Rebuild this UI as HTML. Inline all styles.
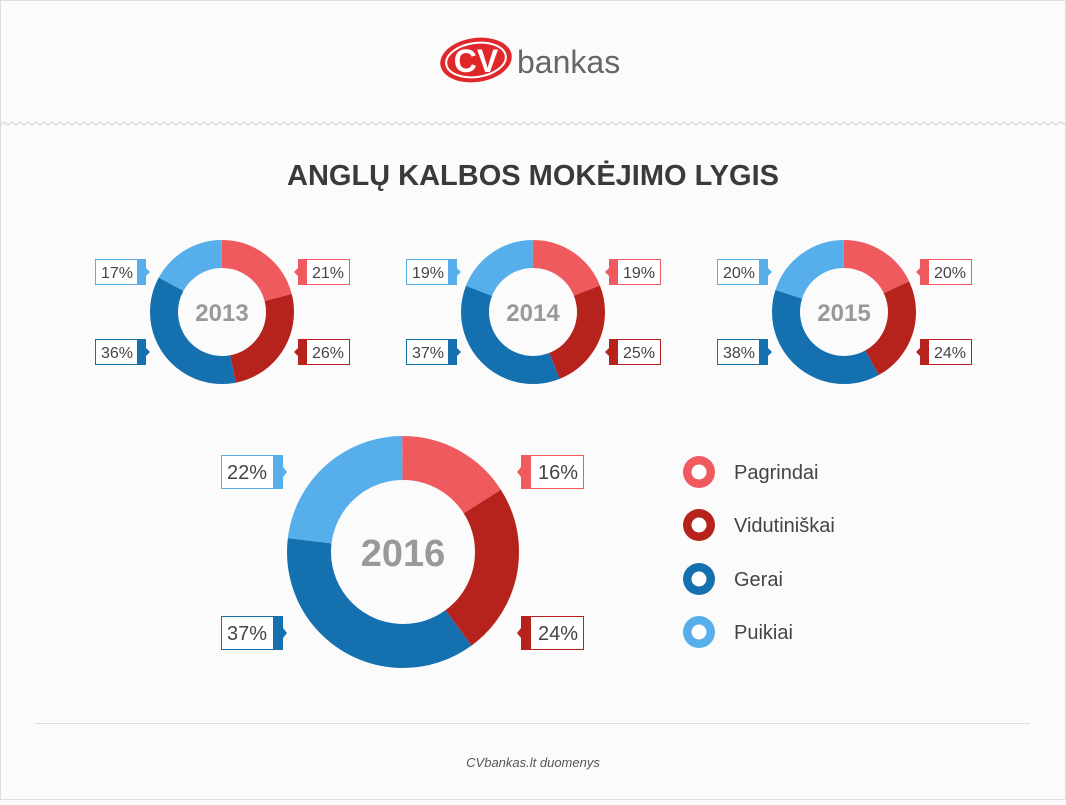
<!DOCTYPE html>
<html><head><meta charset="utf-8"><style>
body{margin:0;width:1066px;height:800px;background:#fbfbfb;font-family:"Liberation Sans",sans-serif;overflow:hidden}
</style></head><body>
<svg width="1066" height="800" xmlns="http://www.w3.org/2000/svg" font-family="Liberation Sans, sans-serif">
<rect x="0.5" y="0.5" width="1065" height="799" fill="#fbfbfb" stroke="#ddd"/>
<!-- logo -->
<ellipse cx="476" cy="60" rx="36" ry="22" fill="#e0282b" transform="rotate(-8 476 60)"/>
<ellipse cx="476" cy="60" rx="30" ry="17" fill="none" stroke="#fff" stroke-width="2" transform="rotate(-8 476 60)"/>
<text x="476" y="72" font-size="32" font-weight="bold" fill="#fff" text-anchor="middle">CV</text>
<text x="517" y="73" font-size="32" fill="#666">bankas</text>
<polyline points="0,125 4,122 8,125 12,122 16,125 20,122 24,125 28,122 32,125 36,122 40,125 44,122 48,125 52,122 56,125 60,122 64,125 68,122 72,125 76,122 80,125 84,122 88,125 92,122 96,125 100,122 104,125 108,122 112,125 116,122 120,125 124,122 128,125 132,122 136,125 140,122 144,125 148,122 152,125 156,122 160,125 164,122 168,125 172,122 176,125 180,122 184,125 188,122 192,125 196,122 200,125 204,122 208,125 212,122 216,125 220,122 224,125 228,122 232,125 236,122 240,125 244,122 248,125 252,122 256,125 260,122 264,125 268,122 272,125 276,122 280,125 284,122 288,125 292,122 296,125 300,122 304,125 308,122 312,125 316,122 320,125 324,122 328,125 332,122 336,125 340,122 344,125 348,122 352,125 356,122 360,125 364,122 368,125 372,122 376,125 380,122 384,125 388,122 392,125 396,122 400,125 404,122 408,125 412,122 416,125 420,122 424,125 428,122 432,125 436,122 440,125 444,122 448,125 452,122 456,125 460,122 464,125 468,122 472,125 476,122 480,125 484,122 488,125 492,122 496,125 500,122 504,125 508,122 512,125 516,122 520,125 524,122 528,125 532,122 536,125 540,122 544,125 548,122 552,125 556,122 560,125 564,122 568,125 572,122 576,125 580,122 584,125 588,122 592,125 596,122 600,125 604,122 608,125 612,122 616,125 620,122 624,125 628,122 632,125 636,122 640,125 644,122 648,125 652,122 656,125 660,122 664,125 668,122 672,125 676,122 680,125 684,122 688,125 692,122 696,125 700,122 704,125 708,122 712,125 716,122 720,125 724,122 728,125 732,122 736,125 740,122 744,125 748,122 752,125 756,122 760,125 764,122 768,125 772,122 776,125 780,122 784,125 788,122 792,125 796,122 800,125 804,122 808,125 812,122 816,125 820,122 824,125 828,122 832,125 836,122 840,125 844,122 848,125 852,122 856,125 860,122 864,125 868,122 872,125 876,122 880,125 884,122 888,125 892,122 896,125 900,122 904,125 908,122 912,125 916,122 920,125 924,122 928,125 932,122 936,125 940,122 944,125 948,122 952,125 956,122 960,125 964,122 968,125 972,122 976,125 980,122 984,125 988,122 992,125 996,122 1000,125 1004,122 1008,125 1012,122 1016,125 1020,122 1024,125 1028,122 1032,125 1036,122 1040,125 1044,122 1048,125 1052,122 1056,125 1060,122 1066,125" fill="none" stroke="#ddd" stroke-width="1.5"/>
<text x="533" y="185" font-size="29" font-weight="bold" fill="#3a3a3a" text-anchor="middle">ANGLŲ KALBOS MOKĖJIMO LYGIS</text>

<!-- donut generator via groups -->
<g id="d2013" transform="translate(222 312) rotate(-90)" fill="none" stroke-width="28">
<circle r="58" pathLength="100" stroke="#EF5A5F" stroke-dasharray="21 79" stroke-dashoffset="0"/>
<circle r="58" pathLength="100" stroke="#B5231C" stroke-dasharray="26 74" stroke-dashoffset="-21"/>
<circle r="58" pathLength="100" stroke="#1570B0" stroke-dasharray="36 64" stroke-dashoffset="-47"/>
<circle r="58" pathLength="100" stroke="#56AEEA" stroke-dasharray="17 83" stroke-dashoffset="-83"/>
</g>
<g transform="translate(533 312) rotate(-90)" fill="none" stroke-width="28">
<circle r="58" pathLength="100" stroke="#EF5A5F" stroke-dasharray="19 81" stroke-dashoffset="0"/>
<circle r="58" pathLength="100" stroke="#B5231C" stroke-dasharray="25 75" stroke-dashoffset="-19"/>
<circle r="58" pathLength="100" stroke="#1570B0" stroke-dasharray="37 63" stroke-dashoffset="-44"/>
<circle r="58" pathLength="100" stroke="#56AEEA" stroke-dasharray="19 81" stroke-dashoffset="-81"/>
</g>
<g transform="translate(844 312) rotate(-90)" fill="none" stroke-width="28">
<circle r="58" pathLength="100" stroke="#EF5A5F" stroke-dasharray="18 82" stroke-dashoffset="0"/>
<circle r="58" pathLength="100" stroke="#B5231C" stroke-dasharray="24 76" stroke-dashoffset="-18"/>
<circle r="58" pathLength="100" stroke="#1570B0" stroke-dasharray="38 62" stroke-dashoffset="-42"/>
<circle r="58" pathLength="100" stroke="#56AEEA" stroke-dasharray="20 80" stroke-dashoffset="-80"/>
</g>
<g transform="translate(403 552) rotate(-90)" fill="none" stroke-width="44">
<circle r="94" pathLength="100" stroke="#EF5A5F" stroke-dasharray="16 84" stroke-dashoffset="0"/>
<circle r="94" pathLength="100" stroke="#B5231C" stroke-dasharray="24 76" stroke-dashoffset="-16"/>
<circle r="94" pathLength="100" stroke="#1570B0" stroke-dasharray="37 63" stroke-dashoffset="-40"/>
<circle r="94" pathLength="100" stroke="#56AEEA" stroke-dasharray="23 77" stroke-dashoffset="-77"/>
</g>
<g font-weight="bold" fill="#999" text-anchor="middle">
<text x="222" y="321" font-size="24">2013</text>
<text x="533" y="321" font-size="24">2014</text>
<text x="844" y="321" font-size="24">2015</text>
<text x="403" y="566" font-size="38">2016</text>
</g>

<!-- small labels: left type -->
<g font-size="16" fill="#444">
<!-- 2013 -->
<rect x="95.5" y="259.5" width="44" height="25" fill="#fff" stroke="#56AEEA"/><rect x="137" y="259" width="9" height="26" fill="#56AEEA"/><path d="M146 268 L150 272 L146 276Z" fill="#56AEEA"/><text x="117" y="278" text-anchor="middle">17%</text>
<rect x="95.5" y="339.5" width="44" height="25" fill="#fff" stroke="#1570B0"/><rect x="137" y="339" width="9" height="26" fill="#1570B0"/><path d="M146 348 L150 352 L146 356Z" fill="#1570B0"/><text x="117" y="358" text-anchor="middle">36%</text>
<rect x="304.5" y="259.5" width="45" height="25" fill="#fff" stroke="#EF5A5F"/><rect x="298" y="259" width="9" height="26" fill="#EF5A5F"/><path d="M298 268 L294 272 L298 276Z" fill="#EF5A5F"/><text x="328" y="278" text-anchor="middle">21%</text>
<rect x="304.5" y="339.5" width="45" height="25" fill="#fff" stroke="#B5231C"/><rect x="298" y="339" width="9" height="26" fill="#B5231C"/><path d="M298 348 L294 352 L298 356Z" fill="#B5231C"/><text x="328" y="358" text-anchor="middle">26%</text>
<!-- 2014 -->
<rect x="406.5" y="259.5" width="44" height="25" fill="#fff" stroke="#56AEEA"/><rect x="448" y="259" width="9" height="26" fill="#56AEEA"/><path d="M457 268 L461 272 L457 276Z" fill="#56AEEA"/><text x="428" y="278" text-anchor="middle">19%</text>
<rect x="406.5" y="339.5" width="44" height="25" fill="#fff" stroke="#1570B0"/><rect x="448" y="339" width="9" height="26" fill="#1570B0"/><path d="M457 348 L461 352 L457 356Z" fill="#1570B0"/><text x="428" y="358" text-anchor="middle">37%</text>
<rect x="615.5" y="259.5" width="45" height="25" fill="#fff" stroke="#EF5A5F"/><rect x="609" y="259" width="9" height="26" fill="#EF5A5F"/><path d="M609 268 L605 272 L609 276Z" fill="#EF5A5F"/><text x="639" y="278" text-anchor="middle">19%</text>
<rect x="615.5" y="339.5" width="45" height="25" fill="#fff" stroke="#B5231C"/><rect x="609" y="339" width="9" height="26" fill="#B5231C"/><path d="M609 348 L605 352 L609 356Z" fill="#B5231C"/><text x="639" y="358" text-anchor="middle">25%</text>
<!-- 2015 -->
<rect x="717.5" y="259.5" width="44" height="25" fill="#fff" stroke="#56AEEA"/><rect x="759" y="259" width="9" height="26" fill="#56AEEA"/><path d="M768 268 L772 272 L768 276Z" fill="#56AEEA"/><text x="739" y="278" text-anchor="middle">20%</text>
<rect x="717.5" y="339.5" width="44" height="25" fill="#fff" stroke="#1570B0"/><rect x="759" y="339" width="9" height="26" fill="#1570B0"/><path d="M768 348 L772 352 L768 356Z" fill="#1570B0"/><text x="739" y="358" text-anchor="middle">38%</text>
<rect x="926.5" y="259.5" width="45" height="25" fill="#fff" stroke="#EF5A5F"/><rect x="920" y="259" width="9" height="26" fill="#EF5A5F"/><path d="M920 268 L916 272 L920 276Z" fill="#EF5A5F"/><text x="950" y="278" text-anchor="middle">20%</text>
<rect x="926.5" y="339.5" width="45" height="25" fill="#fff" stroke="#B5231C"/><rect x="920" y="339" width="9" height="26" fill="#B5231C"/><path d="M920 348 L916 352 L920 356Z" fill="#B5231C"/><text x="950" y="358" text-anchor="middle">24%</text>
</g>
<!-- 2016 labels -->
<g font-size="20" fill="#444">
<rect x="221.5" y="455.5" width="53" height="33" fill="#fff" stroke="#56AEEA"/><rect x="273" y="455" width="10" height="34" fill="#56AEEA"/><path d="M283 467 L287 472 L283 477Z" fill="#56AEEA"/><text x="247" y="479" text-anchor="middle">22%</text>
<rect x="221.5" y="616.5" width="53" height="33" fill="#fff" stroke="#1570B0"/><rect x="273" y="616" width="10" height="34" fill="#1570B0"/><path d="M283 628 L287 633 L283 638Z" fill="#1570B0"/><text x="247" y="640" text-anchor="middle">37%</text>
<rect x="530.5" y="455.5" width="53" height="33" fill="#fff" stroke="#EF5A5F"/><rect x="521" y="455" width="10" height="34" fill="#EF5A5F"/><path d="M521 467 L517 472 L521 477Z" fill="#EF5A5F"/><text x="558" y="479" text-anchor="middle">16%</text>
<rect x="530.5" y="616.5" width="53" height="33" fill="#fff" stroke="#B5231C"/><rect x="521" y="616" width="10" height="34" fill="#B5231C"/><path d="M521 628 L517 633 L521 638Z" fill="#B5231C"/><text x="558" y="640" text-anchor="middle">24%</text>
</g>
<!-- legend -->
<g font-size="20" fill="#444">
<circle cx="699" cy="472" r="16" fill="#EF5A5F"/><circle cx="699" cy="472" r="7.5" fill="#fff"/><text x="734" y="479">Pagrindai</text>
<circle cx="699" cy="525" r="16" fill="#B5231C"/><circle cx="699" cy="525" r="7.5" fill="#fff"/><text x="734" y="532">Vidutiniškai</text>
<circle cx="699" cy="579" r="16" fill="#1570B0"/><circle cx="699" cy="579" r="7.5" fill="#fff"/><text x="734" y="586">Gerai</text>
<circle cx="699" cy="632" r="16" fill="#56AEEA"/><circle cx="699" cy="632" r="7.5" fill="#fff"/><text x="734" y="639">Puikiai</text>
</g>
<line x1="35" y1="723.5" x2="1030" y2="723.5" stroke="#ddd"/>
<text x="533" y="767" font-size="13" font-style="italic" fill="#555" text-anchor="middle">CVbankas.lt duomenys</text>
</svg>
</body></html>
